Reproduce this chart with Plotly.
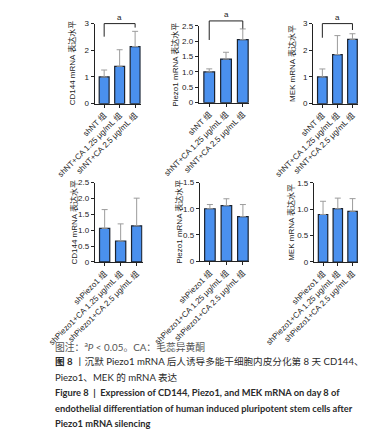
import plotly.graph_objects as go

W, H = 371, 445

# ---------------- data ----------------
top_categories = ["shNT 组", "shNT+CA 1.25 μg/mL 组", "shNT+CA 2.5 μg/mL 组"]
bottom_categories = ["shPiezo1 组", "shPiezo1+CA 1.25 μg/mL 组", "shPiezo1+CA 2.5 μg/mL 组"]

cd144_top_mean = [1.00, 1.40, 2.14]
cd144_top_sd = [0.26, 0.62, 0.57]
piezo1_top_mean = [1.00, 1.42, 2.05]
piezo1_top_sd = [0.10, 0.22, 0.35]
mek_top_mean = [1.00, 1.84, 2.41]
mek_top_sd = [0.30, 0.71, 0.21]

cd144_bot_mean = [1.06, 0.66, 1.14]
cd144_bot_sd = [0.59, 0.54, 0.87]
piezo1_bot_mean = [1.00, 1.06, 0.85]
piezo1_bot_sd = [0.08, 0.13, 0.23]
mek_bot_mean = [0.90, 1.01, 0.96]
mek_bot_sd = [0.25, 0.20, 0.24]

y_titles = ["CD144 mRNA 表达水平", "Piezo1 mRNA 表达水平", "MEK mRNA 表达水平"]
ticks_0_3 = [0, 1, 2, 3]
ticks_0_25 = [0, 0.5, 1.0, 1.5, 2.0, 2.5]
ticks_0_15 = [0, 0.5, 1.0, 1.5]

# significance brackets: (bar_from, bar_to, top level, left end, right end)
sig_cd144 = (0, 2, 3.0, 2.51, 2.85)
sig_piezo1 = (0, 2, 2.66, 2.04, 2.41)
sig_mek = (0, 2, 3.0, 2.47, 2.76)
sig_label = "a"

caption_lines = [
    "图注：<sup>a</sup><i>P</i> &lt; 0.05。CA：毛蕊异黄酮",
    "<b>图 8</b> 丨沉默 Piezo1 mRNA 后人诱导多能干细胞内皮分化第 8 天 CD144、",
    "Piezo1、MEK 的 mRNA 表达",
    "<b>Figure 8  |  Expression of CD144, Piezo1, and MEK mRNA on day 8 of</b>",
    "<b>endothelial differentiation of human induced pluripotent stem cells after</b>",
    "<b>Piezo1 mRNA silencing</b>",
]

# ---------------- layout of panels (pixels) ----------------
FONT = "Liberation Sans, Arial, Noto Sans CJK SC, sans-serif"
CJK_FONT = "Lato, Noto Sans CJK SC, sans-serif"
BAR_FILL = "#4a90ee"
BAR_LINE = "#1b2330"
ERR_COLOR = "#9c9c9c"
XRANGE = [-0.62, 2.37]

panels = [
    dict(box=(51.5, 105, 20, 101.7), cats=top_categories, mean=cd144_top_mean, sd=cd144_top_sd,
         ticks=ticks_0_3, title=y_titles[0], title_x=25, sig=sig_cd144),
    dict(box=(172, 230, 22.3, 100.7), cats=top_categories, mean=piezo1_top_mean, sd=piezo1_top_sd,
         ticks=ticks_0_25, title=y_titles[1], title_x=145, sig=sig_piezo1),
    dict(box=(304, 356, 20, 101.7), cats=top_categories, mean=mek_top_mean, sd=mek_top_sd,
         ticks=ticks_0_3, title=y_titles[2], title_x=279, sig=sig_mek),
    dict(box=(51.7, 107, 182.3, 263.3), cats=bottom_categories, mean=cd144_bot_mean, sd=cd144_bot_sd,
         ticks=ticks_0_25, title=y_titles[0], title_x=28, sig=None),
    dict(box=(173, 230, 182.2, 262.5), cats=bottom_categories, mean=piezo1_bot_mean, sd=piezo1_bot_sd,
         ticks=ticks_0_15, title=y_titles[1], title_x=149, sig=None),
    dict(box=(305, 356, 182.5, 263.3), cats=bottom_categories, mean=mek_bot_mean, sd=mek_bot_sd,
         ticks=ticks_0_15, title=y_titles[2], title_x=279, sig=None),
]


def tick_text(v, ints):
    if v == 0:
        return "0"
    if ints:
        return str(int(v))
    return f"{v:.1f}"


fig = go.Figure()
shapes = []
annotations = []

for i, p in enumerate(panels):
    n = i + 1
    xa = "x" if n == 1 else f"x{n}"
    ya = "y" if n == 1 else f"y{n}"
    left, right, top, bottom = p["box"]
    xdom = [left / W, right / W]
    ydom = [1 - bottom / H, 1 - top / H]
    yr = [0, p["ticks"][-1]]
    ints = all(float(t).is_integer() for t in p["ticks"])
    xs = list(range(len(p["cats"])))

    fig.add_trace(go.Bar(
        x=xs, y=p["mean"], width=0.64, xaxis=xa, yaxis=ya,
        marker=dict(color=BAR_FILL, line=dict(color=BAR_LINE, width=1.2)),
        error_y=dict(type="data", symmetric=False, array=p["sd"], arrayminus=[0] * len(xs),
                     color=ERR_COLOR, thickness=1, width=3),
        showlegend=False, hoverinfo="skip",
    ))

    axkey_x = "xaxis" if n == 1 else f"xaxis{n}"
    axkey_y = "yaxis" if n == 1 else f"yaxis{n}"
    fig.update_layout({
        axkey_x: dict(domain=xdom, range=XRANGE, anchor=ya, showgrid=False, zeroline=False,
                      showline=True, linecolor="#222", linewidth=1,
                      ticks="outside", ticklen=3, tickcolor="#222",
                      tickvals=xs, ticktext=p["cats"], tickangle=-45,
                      tickfont=dict(size=8, color="#222", family=FONT)),
        axkey_y: dict(domain=ydom, range=yr, anchor=xa, showgrid=False, zeroline=False,
                      showline=True, linecolor="#222", linewidth=1,
                      ticks="outside", ticklen=3, tickcolor="#222",
                      tickvals=p["ticks"], ticktext=[tick_text(t, ints) for t in p["ticks"]],
                      tickfont=dict(size=8, color="#222", family=FONT)),
    })

    annotations.append(dict(
        x=p["title_x"] / W, y=1 - (top + bottom) / 2 / H, xref="paper", yref="paper",
        text=p["title"], textangle=-90, showarrow=False, xanchor="center", yanchor="middle",
        font=dict(size=8, color="#222", family=FONT),
    ))

    if p["sig"] is not None:
        a, b, lvl, lend, rend = p["sig"]

        def px(xv):
            return xdom[0] + (xv - XRANGE[0]) / (XRANGE[1] - XRANGE[0]) * (xdom[1] - xdom[0])

        def py(yv):
            return ydom[0] + (yv - yr[0]) / (yr[1] - yr[0]) * (ydom[1] - ydom[0])

        path = (f"M {px(a)},{py(lend)} L {px(a)},{py(lvl)} "
                f"L {px(b)},{py(lvl)} L {px(b)},{py(rend)}")
        shapes.append(dict(type="path", path=path, xref="paper", yref="paper",
                           line=dict(color="#222", width=1)))
        annotations.append(dict(
            x=(px(a) + px(b)) / 2, y=py(lvl), xref="paper", yref="paper", text=sig_label,
            showarrow=False, xanchor="center", yanchor="bottom",
            font=dict(size=8, color="#222", family=FONT),
        ))

caption_y = [350, 365, 381, 397, 413, 428]
caption_size = [9.8, 9.6, 9.6, 9.3, 9.3, 9.3]
for k, (line, yy) in enumerate(zip(caption_lines, caption_y)):
    annotations.append(dict(
        x=4 / W, y=1 - yy / H, xref="paper", yref="paper", text=line, showarrow=False,
        xanchor="left", yanchor="middle",
        font=dict(size=caption_size[k], color="#555" if k == 0 else "#2a2a2a", family=CJK_FONT),
    ))

fig.update_layout(
    width=W, height=H, margin=dict(l=0, r=0, t=0, b=0),
    paper_bgcolor="white", plot_bgcolor="white",
    shapes=shapes, annotations=annotations, bargap=0,
)

fig.write_html("out.html", config={"displayModeBar": False, "staticPlot": True},
               post_script="document.body.style.margin='0';document.body.style.overflow='hidden';")
